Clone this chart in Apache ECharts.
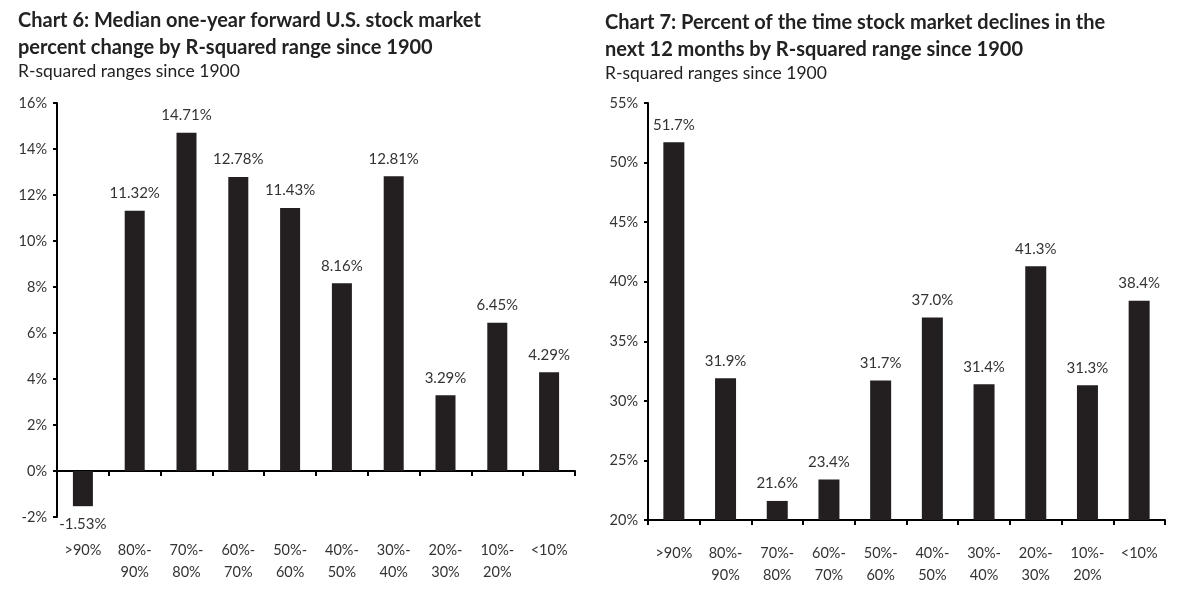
<!DOCTYPE html>
<html><head><meta charset="utf-8">
<script src="https://cdn.jsdelivr.net/npm/echarts@6/dist/echarts.min.js"></script>
<style>html,body{margin:0;padding:0;background:#fff}#c{width:1184px;height:597px}</style>
</head><body><div id="c"></div>
<script>
const categories = ['>90%', '80%-\n90%', '70%-\n80%', '60%-\n70%', '50%-\n60%', '40%-\n50%', '30%-\n40%', '20%-\n30%', '10%-\n20%', '<10%'];
const medianReturn = [-1.53, 11.32, 14.71, 12.78, 11.43, 8.16, 12.81, 3.29, 6.45, 4.29];
const pctDeclines = [51.7, 31.9, 21.6, 23.4, 31.7, 37.0, 31.4, 41.3, 31.3, 38.4];
const leftTicks = {min: -2, max: 16, interval: 2};
const rightTicks = {min: 20, max: 55, interval: 5};

const FONT = '"Gill Sans", Lato, "Open Sans", sans-serif';
const BAR = '#231f20';
const TXT = '#333';
const chart = echarts.init(document.getElementById('c'));

function labelAxis(grid) {
  return {type: 'category', gridIndex: grid, data: categories, position: 'bottom',
    axisLine: {show: false, onZero: false}, axisTick: {show: false},
    axisLabel: {color: TXT, fontFamily: FONT, fontSize: 14.5, margin: 22, lineHeight: 22, interval: 0}};
}
function lineAxis(grid, yIdx, onZero) {
  return {type: 'category', gridIndex: grid, data: categories, position: 'bottom',
    axisLine: {show: true, onZero: onZero, onZeroAxisIndex: yIdx, lineStyle: {color: '#000', width: 2}},
    axisTick: {show: true, length: 5, lineStyle: {color: '#000', width: 2}, interval: 0},
    axisLabel: {show: false}};
}
function valAxis(grid, t) {
  return {type: 'value', gridIndex: grid, min: t.min, max: t.max, interval: t.interval,
    splitLine: {show: false},
    axisLine: {show: true, lineStyle: {color: '#000', width: 2}},
    axisTick: {show: true, length: 4, lineStyle: {color: '#000', width: 2}},
    axisLabel: {color: TXT, fontFamily: FONT, fontSize: 14.5, margin: 10, formatter: v => v + '%'}};
}
const titleStyle = {fontFamily: FONT, fontSize: 20, fontWeight: 'bold', color: '#222', lineHeight: 27};
const subStyle = {fontFamily: FONT, fontSize: 17.5, fontWeight: 'normal', color: '#222'};

chart.setOption({
  animation: false,
  textStyle: {fontFamily: FONT},
  title: [
    {text: 'Chart 6: Median one-year forward U.S. stock market\npercent change by R-squared range since 1900', left: 18, top: 7, padding: 0, textStyle: titleStyle},
    {text: 'R-squared ranges since 1900', left: 18, top: 62, padding: 0, textStyle: subStyle},
    {text: 'Chart 7: Percent of the time stock market declines in the\nnext 12 months by R-squared range since 1900', left: 605, top: 9, padding: 0, textStyle: titleStyle},
    {text: 'R-squared ranges since 1900', left: 605, top: 64, padding: 0, textStyle: subStyle}
  ],
  grid: [
    {left: 57, top: 103, width: 518, height: 414},
    {left: 648, top: 103, width: 517, height: 417}
  ],
  xAxis: [labelAxis(0), lineAxis(0, 0, true), labelAxis(1), lineAxis(1, 1, false)],
  yAxis: [valAxis(0, leftTicks), valAxis(1, rightTicks)],
  series: [
    {type: 'bar', xAxisIndex: 0, yAxisIndex: 0, data: medianReturn.map(v => ({value: v, label: {position: v < 0 ? 'bottom' : 'top'}})),
     barWidth: 20, itemStyle: {color: BAR},
     label: {show: true, distance: 10, color: TXT, fontFamily: FONT, fontSize: 15, formatter: p => p.value.toFixed(2) + '%'}},
    {type: 'bar', xAxisIndex: 2, yAxisIndex: 1, data: pctDeclines,
     barWidth: 21, itemStyle: {color: BAR},
     label: {show: true, position: 'top', distance: 10, color: TXT, fontFamily: FONT, fontSize: 15, formatter: p => p.value.toFixed(1) + '%'}}
  ]
});
</script></body></html>
